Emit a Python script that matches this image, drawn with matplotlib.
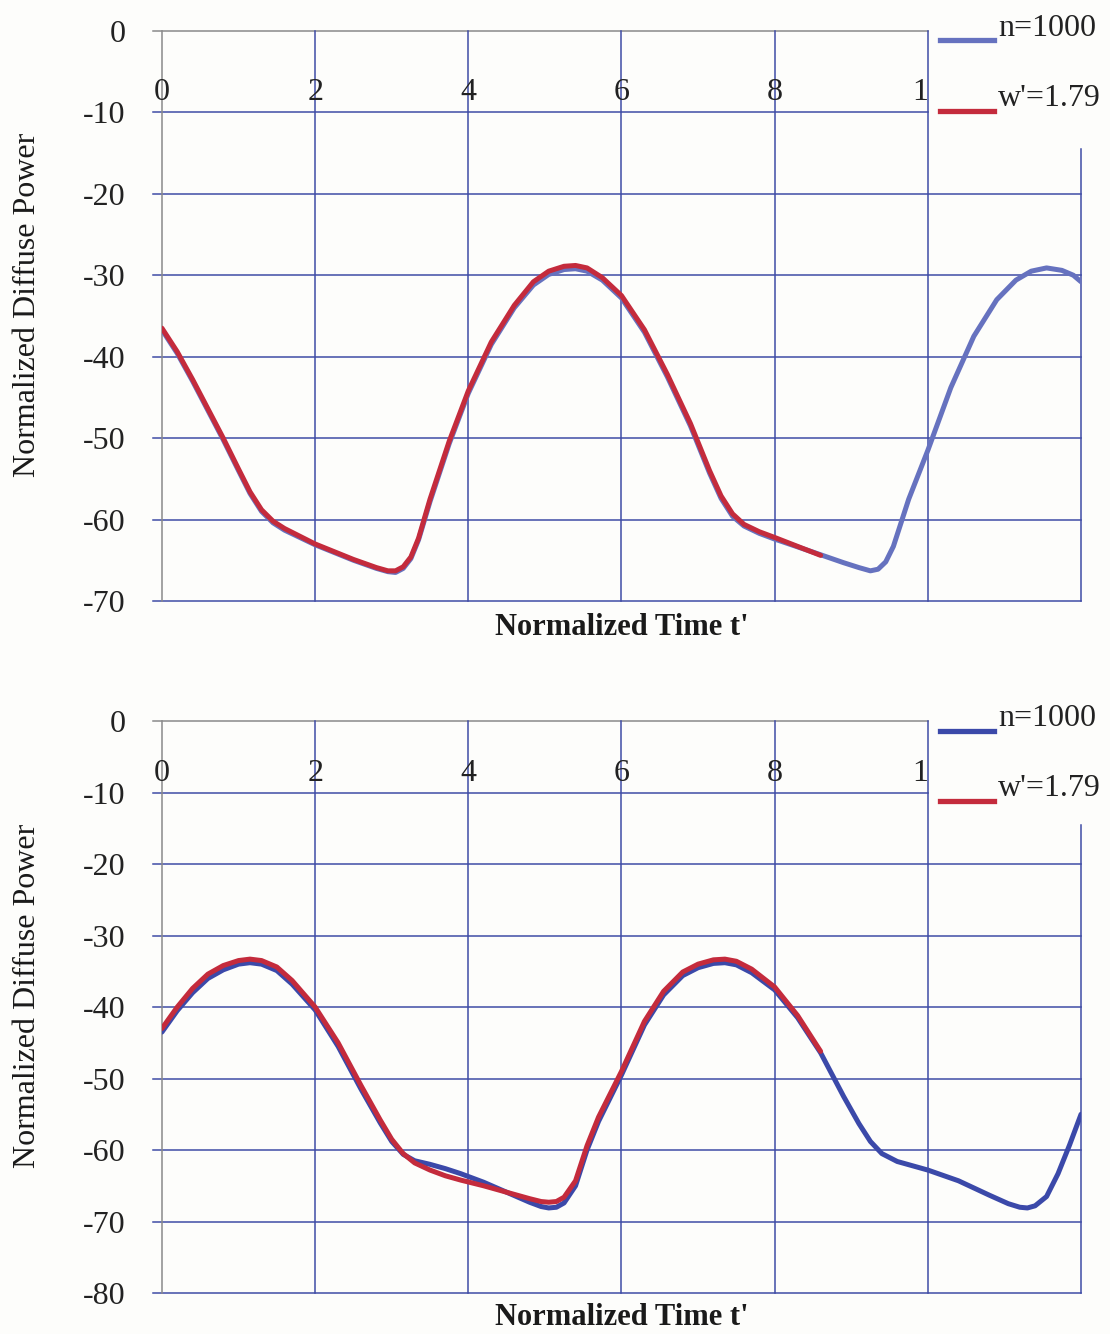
import matplotlib.pyplot as plt
import numpy as np

plt.rcParams['font.family'] = ['Liberation Serif', 'DejaVu Serif']

# ---- data ----
top_blue_x = [0, 0.2, 0.4, 0.6, 0.8, 1.0, 1.15, 1.3, 1.45, 1.6, 2.0, 2.5, 2.8, 2.95, 3.05,
              3.15, 3.25, 3.35, 3.5, 3.75, 4.0, 4.3, 4.6, 4.85, 5.05, 5.25, 5.4, 5.55, 5.75,
              6.0, 6.3, 6.6, 6.9, 7.15, 7.3, 7.45, 7.6, 7.8, 8.0, 8.5, 8.9, 9.1, 9.25, 9.35,
              9.45, 9.55, 9.75, 10.0, 10.3, 10.6, 10.9, 11.15, 11.35, 11.55, 11.75, 11.9, 12.0]
top_blue_y = [-36.7, -39.6, -43.0, -46.6, -50.2, -54.0, -56.8, -59.0, -60.4, -61.3, -63.1,
              -65.0, -66.0, -66.4, -66.5, -66.0, -64.8, -62.5, -57.8, -50.7, -44.5, -38.5,
              -34.0, -31.2, -29.9, -29.3, -29.2, -29.5, -30.6, -32.8, -37.0, -42.5, -48.5,
              -54.3, -57.4, -59.6, -60.8, -61.7, -62.4, -64.0, -65.3, -65.9, -66.3, -66.1,
              -65.2, -63.3, -57.5, -51.5, -43.8, -37.5, -33.0, -30.6, -29.5, -29.1, -29.4,
              -30.0, -30.8]
top_red_x = [0, 0.2, 0.4, 0.6, 0.8, 1.0, 1.15, 1.3, 1.45, 1.6, 2.0, 2.5, 2.8, 2.95, 3.05,
             3.15, 3.25, 3.35, 3.5, 3.75, 4.0, 4.3, 4.6, 4.85, 5.05, 5.25, 5.4, 5.55, 5.75,
             6.0, 6.3, 6.6, 6.9, 7.15, 7.3, 7.45, 7.6, 7.8, 8.0, 8.3, 8.6]
top_red_y = [-36.5, -39.4, -42.8, -46.4, -50.0, -53.8, -56.6, -58.8, -60.2, -61.1, -63.0,
             -64.9, -65.9, -66.3, -66.3, -65.8, -64.6, -62.3, -57.5, -50.4, -44.2, -38.2,
             -33.7, -30.8, -29.5, -28.9, -28.8, -29.1, -30.3, -32.5, -36.7, -42.2, -48.2,
             -54.0, -57.1, -59.3, -60.6, -61.5, -62.2, -63.3, -64.4]

bot_blue_x = [0, 0.2, 0.4, 0.6, 0.8, 1.0, 1.15, 1.3, 1.5, 1.7, 2.0, 2.3, 2.6, 2.85, 3.0,
              3.15, 3.3, 3.5, 3.7, 3.9, 4.2, 4.5, 4.8, 4.95, 5.05, 5.15, 5.25, 5.4, 5.55,
              5.7, 6.0, 6.3, 6.55, 6.8, 7.0, 7.2, 7.35, 7.5, 7.7, 8.0, 8.3, 8.6, 8.9, 9.1,
              9.25, 9.4, 9.6, 9.8, 10.0, 10.4, 10.8, 11.05, 11.2, 11.3, 11.4, 11.55, 11.7,
              11.85, 12.0]
bot_blue_y = [-43.5, -40.5, -38.0, -36.0, -34.8, -34.0, -33.8, -34.0, -34.9, -36.8, -40.4,
              -45.5, -51.5, -56.2, -58.8, -60.6, -61.5, -62.0, -62.6, -63.3, -64.5, -65.9,
              -67.3, -67.9, -68.1, -68.0, -67.4, -65.0, -60.0, -56.0, -49.5, -42.5, -38.3,
              -35.6, -34.5, -33.9, -33.8, -34.1, -35.2, -37.6, -41.5, -46.4, -52.5, -56.3,
              -58.8, -60.5, -61.6, -62.2, -62.8, -64.3, -66.3, -67.5, -68.0, -68.1, -67.8,
              -66.5, -63.3, -59.3, -55.0]
bot_red_x = [0, 0.2, 0.4, 0.6, 0.8, 1.0, 1.15, 1.3, 1.5, 1.7, 2.0, 2.3, 2.6, 2.85, 3.0,
             3.15, 3.3, 3.5, 3.7, 3.9, 4.2, 4.5, 4.8, 4.95, 5.05, 5.15, 5.25, 5.4, 5.55,
             5.7, 6.0, 6.3, 6.55, 6.8, 7.0, 7.2, 7.35, 7.5, 7.7, 8.0, 8.3, 8.6]
bot_red_y = [-43.0, -40.0, -37.4, -35.4, -34.2, -33.5, -33.3, -33.5, -34.4, -36.3, -40.0,
             -45.0, -51.0, -55.8, -58.5, -60.5, -61.8, -62.8, -63.6, -64.2, -65.0, -65.9,
             -66.8, -67.2, -67.3, -67.2, -66.6, -64.3, -59.4, -55.4, -49.0, -42.0, -37.8,
             -35.1, -34.0, -33.4, -33.3, -33.6, -34.7, -37.2, -41.2, -46.2]

xtick_vals = [0, 2, 4, 6, 8, 10]
xtick_labels = ['0', '2', '4', '6', '8', '1']
xgrid = [0, 2, 4, 6, 8, 10, 12]
top_yticks = [0, -10, -20, -30, -40, -50, -60, -70]
bot_yticks = [0, -10, -20, -30, -40, -50, -60, -70, -80]
legend_labels = ['n=1000', "w'=1.79"]

grid_c = '#3f4ca6'
gray_c = '#8a8a8a'
red_c = '#c42b3c'
fs = 23

fig = plt.figure(figsize=(11.1, 13.34), dpi=100)
fig.patch.set_facecolor('#fdfdfb')


def panel(rect, bx, by, rx, ry, yticks, blue_c, leg_y, title_y):
    ax = fig.add_axes(rect)
    ax.set_facecolor('none')
    ymin = min(yticks)
    ax.set_xlim(0, 12)
    ax.set_ylim(ymin, 0)
    for s in ax.spines.values():
        s.set_visible(False)
    ax.set_xticks([])
    ax.set_yticks(yticks)
    ax.set_yticklabels([str(v) for v in yticks])
    ax.tick_params(axis='y', length=0, pad=26, labelsize=fs, labelcolor='#222222')

    # grid
    for y in yticks:
        xe = 10 if y > -15 else 12
        c = gray_c if y == 0 else grid_c
        ax.plot([-0.12, xe], [y, y], color=c, lw=1.1, clip_on=False, zorder=1)
    for x in xgrid:
        top = -14.5 if x == 12 else 0
        c = gray_c if x == 0 else grid_c
        ax.plot([x, x], [ymin, top], color=c, lw=1.1, clip_on=False, zorder=1)

    for v, l in zip(xtick_vals, xtick_labels):
        ha = 'right' if v == 10 else 'center'
        ax.text(v, -9.3, l, ha=ha, va='bottom', fontsize=fs, color='#222222')

    ax.plot(bx, by, color=blue_c, lw=3.6, solid_capstyle='round',
            solid_joinstyle='round', zorder=3)
    ax.plot(rx, ry, color=red_c, lw=3.6, solid_capstyle='round',
            solid_joinstyle='round', zorder=4)

    # legend
    for (ly, ty), lab, c in zip(leg_y, legend_labels, [blue_c, red_c]):
        ax.plot([10.16, 10.87], [ly, ly], color=c, lw=3.8, clip_on=False)
        ax.text(10.92, ty, lab, ha='left', va='center', fontsize=fs, color='#222222')

    ax.text(6, title_y, "Normalized Time t'", ha='center', va='center',
            fontsize=22, fontweight='bold', color='#1a1a1a')
    ax.set_ylabel('Normalized Diffuse Power', fontsize=23, color='#1a1a1a')
    ax.yaxis.set_label_coords(-0.13, 0.52)
    return ax


panel([0.1459, 0.5495, 0.828, 0.4273], top_blue_x, top_blue_y, top_red_x, top_red_y,
      top_yticks, '#6672bf', [(-1.1, 0.3), (-9.8, -8.3)], -73.2)
panel([0.1459, 0.0307, 0.828, 0.4288], bot_blue_x, bot_blue_y, bot_red_x, bot_red_y,
      bot_yticks, '#3b49a9', [(-1.4, 0.3), (-11.2, -9.4)], -83.4)

fig.savefig('out.png', dpi=100, facecolor=fig.get_facecolor())
